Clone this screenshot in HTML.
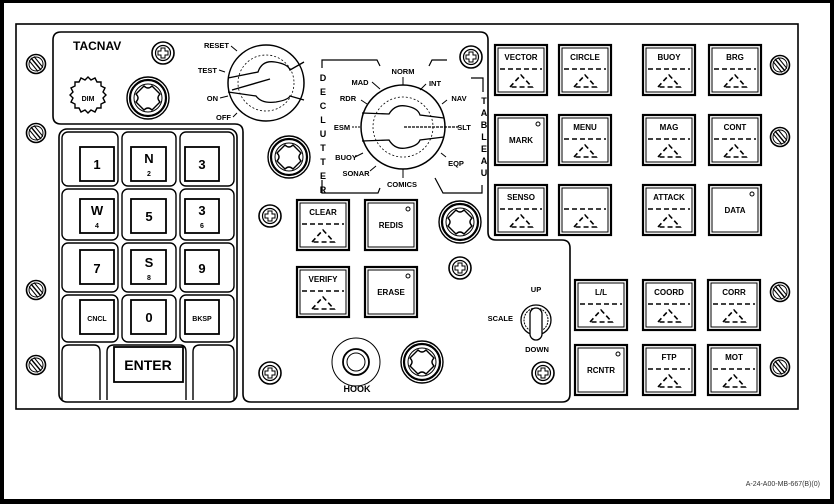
<!DOCTYPE html>
<html><head><meta charset="utf-8"><style>
html,body{margin:0;padding:0;background:#000}
svg{display:block}
text{font-family:"Liberation Sans",sans-serif;font-weight:bold;fill:#000}
</style></head><body>
<svg width="834" height="504" viewBox="0 0 834 504" xmlns="http://www.w3.org/2000/svg">
<defs>
<g id="frame">
<rect x="0" y="0" width="52" height="50" fill="none" stroke="#000" stroke-width="2.2"/>
<rect x="3" y="3" width="46" height="44" fill="none" stroke="#000" stroke-width="1"/>
</g>
<g id="tri">
<line x1="5" y1="24" x2="47" y2="24" stroke="#000" stroke-width="1.4" stroke-dasharray="5,3"/>
<path d="M15,42 L26,30 L37,42 Z" fill="none" stroke="#000" stroke-width="1.6" stroke-dasharray="5,3"/>
</g>
<g id="slot">
<circle r="9.5" fill="#fff" stroke="#000" stroke-width="1.6"/>
<circle r="7" fill="none" stroke="#000" stroke-width="1"/>
<line x1="-5" y1="-6" x2="5" y2="6" stroke="#000" stroke-width="1.4"/>
<line x1="-2" y1="-7.5" x2="7" y2="3.5" stroke="#000" stroke-width="1"/>
<line x1="-7" y1="-3.5" x2="2" y2="7.5" stroke="#000" stroke-width="1"/>
</g>
<g id="phil">
<circle r="11" fill="#fff" stroke="#000" stroke-width="1.6"/>
<circle r="7.5" fill="none" stroke="#000" stroke-width="1.2"/>
<path d="M-2,-5 H2 V-2 H5 V2 H2 V5 H-2 V2 H-5 V-2 H-2 Z" fill="none" stroke="#000" stroke-width="1"/>
</g>
<g id="knob">
<circle r="21" fill="#fff" stroke="#000" stroke-width="1.4"/>
<circle r="18" fill="none" stroke="#000" stroke-width="2.2"/>
<circle r="14" fill="none" stroke="#000" stroke-width="1"/>
<path d="M-4,-12 Q0,-8 4,-12 L12,-4 Q8,0 12,4 L4,12 Q0,8 -4,12 L-12,4 Q-8,0 -12,-4 Z" fill="none" stroke="#000" stroke-width="1.4"/>
</g>
</defs>
<rect x="4" y="3" width="826" height="496" fill="#fff"/>
<!-- outer panel -->
<rect x="16" y="24" width="782" height="385" fill="none" stroke="#000" stroke-width="1.6"/>
<!-- main subpanel outline -->
<path d="M53,40 Q53,32 61,32 L480,32 Q488,32 488,40 L488,232 Q488,240 496,240 L562,240 Q570,240 570,248 L570,394 Q570,402 562,402 L251,402 Q243,402 243,394 L243,132 Q243,124 235,124 L61,124 Q53,124 53,116 Z" fill="none" stroke="#000" stroke-width="1.6"/>
<!-- keypad -->
<rect x="59" y="129" width="178" height="273" rx="8" fill="none" stroke="#000" stroke-width="1.6"/>
<g fill="none" stroke="#000" stroke-width="1.4">
<rect x="62" y="132" width="56" height="54" rx="6"/><rect x="122" y="132" width="54" height="54" rx="6"/><rect x="180" y="132" width="54" height="54" rx="6"/>
<rect x="62" y="189" width="56" height="51" rx="6"/><rect x="122" y="189" width="54" height="51" rx="6"/><rect x="180" y="189" width="54" height="51" rx="6"/>
<rect x="62" y="243" width="56" height="49" rx="6"/><rect x="122" y="243" width="54" height="49" rx="6"/><rect x="180" y="243" width="54" height="49" rx="6"/>
<rect x="62" y="295" width="56" height="47" rx="6"/><rect x="122" y="295" width="54" height="47" rx="6"/><rect x="180" y="295" width="54" height="47" rx="6"/>
<path d="M62,400 V352 Q62,345 69,345 H94 Q100,345 100,352 V400"/>
<path d="M107,400 V352 Q107,345 114,345 H180 Q186,345 186,352 V400"/>
<path d="M193,400 V352 Q193,345 200,345 H227 Q234,345 234,352 V400"/>
</g>
<g fill="none" stroke="#000" stroke-width="1.8">
<rect x="80" y="147" width="34" height="34"/><rect x="131" y="147" width="35" height="34"/><rect x="185" y="147" width="34" height="34"/>
<rect x="80" y="199" width="34" height="34"/><rect x="131" y="199" width="35" height="34"/><rect x="185" y="199" width="34" height="34"/>
<rect x="80" y="250" width="34" height="34"/><rect x="131" y="250" width="35" height="34"/><rect x="185" y="250" width="34" height="34"/>
<rect x="80" y="300" width="34" height="34"/><rect x="131" y="300" width="35" height="34"/><rect x="185" y="300" width="34" height="34"/>
<rect x="114" y="347" width="69" height="35"/>
</g>
<g text-anchor="middle" font-size="13">
<text x="97" y="169">1</text><text x="149" y="163">N</text><text x="202" y="169">3</text>
<text x="97" y="215">W</text><text x="149" y="221">5</text><text x="202" y="215">3</text>
<text x="97" y="273">7</text><text x="149" y="267">S</text><text x="202" y="273">9</text>
<text x="149" y="322">0</text>
<text x="148" y="370" font-size="14">ENTER</text>
</g>
<g text-anchor="middle" font-size="7">
<text x="149" y="176">2</text><text x="97" y="228">4</text><text x="202" y="228">6</text><text x="149" y="280">8</text>
<text x="97" y="321">CNCL</text><text x="202" y="321">BKSP</text>
</g>
<!-- TACNAV -->
<text x="73" y="50" font-size="12">TACNAV</text>
<path d="M88,77 l3,3 4,-2 2,4 4,0 0,4 4,2 -2,4 3,3 -3,3 2,4 -4,2 0,4 -4,0 -2,4 -4,-2 -3,3 -3,-3 -4,2 -2,-4 -4,0 0,-4 -4,-2 2,-4 -3,-3 3,-3 -2,-4 4,-2 0,-4 4,0 2,-4 4,2 Z" fill="#fff" stroke="#000" stroke-width="1.4"/>
<text x="88" y="101" font-size="7" text-anchor="middle">DIM</text>
<use href="#knob" x="148" y="98"/>
<use href="#phil" x="163" y="53"/>
<!-- tacnav switch -->
<circle cx="266" cy="83" r="38" fill="#fff" stroke="#000" stroke-width="1.5"/>
<circle cx="266" cy="83" r="28" fill="none" stroke="#000" stroke-width="0.8" stroke-dasharray="2,2"/>
<path d="M228,78 L258,72 Q262,60 275,62 Q288,64 290,70 L304,62 M228,92 L256,96 Q262,104 276,102 Q288,100 290,96 L304,100" fill="none" stroke="#000" stroke-width="1.3"/>
<line x1="232" y1="90" x2="270" y2="79" stroke="#000" stroke-width="1.4"/>
<g font-size="7.5" text-anchor="end">
<text x="229" y="48">RESET</text><text x="217" y="73">TEST</text><text x="218" y="101">ON</text><text x="231" y="120">OFF</text>
</g>
<g stroke="#000" stroke-width="1" fill="none">
<path d="M231,46 l6,5"/><path d="M219,70 l6,2"/><path d="M220,98 l8,-2"/><path d="M233,117 l4,-4"/>
</g>
<!-- declutter -->
<g stroke="#000" stroke-width="1.2" fill="none">
<path d="M322,68 V60 H377 L380,66"/>
<path d="M322,180 V193 H378 L380,188"/>
<path d="M429,66 L432,60 H447"/>
<path d="M471,78 H483 V92"/>
<path d="M435,178 L443,193 H482 V185"/>
</g>
<g font-size="9" text-anchor="middle">
<text x="323" y="81">D</text><text x="323" y="95">E</text><text x="323" y="109">C</text><text x="323" y="123">L</text><text x="323" y="137">U</text><text x="323" y="151">T</text><text x="323" y="165">T</text><text x="323" y="179">E</text><text x="323" y="193">R</text>
<text x="484" y="104">T</text><text x="484" y="116">A</text><text x="484" y="128">B</text><text x="484" y="140">L</text><text x="484" y="152">E</text><text x="484" y="164">A</text><text x="484" y="176">U</text>
</g>
<circle cx="403" cy="127" r="42" fill="#fff" stroke="#000" stroke-width="1.5"/>
<circle cx="403" cy="127" r="30" fill="none" stroke="#000" stroke-width="0.8" stroke-dasharray="2,2"/>
<path d="M362,113 L389,114 Q395,104 406,106 Q418,108 420,115 L444,118 M362,141 L389,140 Q395,150 406,148 Q418,146 420,140 L444,137" fill="none" stroke="#000" stroke-width="1.3"/>
<line x1="404" y1="127" x2="458" y2="127" stroke="#000" stroke-width="1.2" stroke-dasharray="3,1"/>
<line x1="352" y1="127" x2="361" y2="127" stroke="#000" stroke-width="1" stroke-dasharray="2,1"/>
<g stroke="#000" stroke-width="1" fill="none">
<path d="M403,77 V85"/><path d="M372,82 l8,7"/><path d="M426,84 l-6,6"/><path d="M361,100 l6,4"/><path d="M447,100 l-5,4"/><path d="M355,157 l8,-4"/><path d="M446,157 l-5,-4"/><path d="M370,171 l6,-5"/><path d="M403,169 V178"/>
</g>
<g font-size="7.5" text-anchor="middle">
<text x="403" y="74">NORM</text><text x="360" y="85">MAD</text><text x="435" y="86">INT</text><text x="348" y="101">RDR</text><text x="459" y="101">NAV</text><text x="342" y="130">ESM</text><text x="464" y="130">SLT</text><text x="346" y="160">BUOY</text><text x="456" y="166">EQP</text><text x="356" y="176">SONAR</text><text x="402" y="187">COMICS</text>
</g>
<use href="#phil" x="471" y="57"/>
<use href="#knob" x="289" y="157"/>
<use href="#phil" x="270" y="216"/>
<use href="#knob" x="460" y="222"/>
<use href="#phil" x="460" y="268"/>
<use href="#phil" x="270" y="373"/>
<use href="#knob" x="422" y="362"/>
<use href="#phil" x="543" y="373"/>
<!-- hook -->
<circle cx="356" cy="362" r="24" fill="#fff" stroke="#000" stroke-width="1"/>
<circle cx="356" cy="362" r="13" fill="none" stroke="#000" stroke-width="1.8"/>
<circle cx="356" cy="362" r="9" fill="none" stroke="#000" stroke-width="1"/>
<text x="357" y="392" font-size="9" text-anchor="middle">HOOK</text>
<!-- scale toggle -->
<circle cx="536" cy="320" r="15" fill="#fff" stroke="#000" stroke-width="1.3"/>
<circle cx="536" cy="320" r="12" fill="none" stroke="#000" stroke-width="1" stroke-dasharray="2,1"/>
<rect x="530" y="308" width="12" height="32" rx="6" fill="#fff" stroke="#000" stroke-width="1.3"/>
<text x="536" y="292" font-size="7.5" text-anchor="middle">UP</text>
<text x="513" y="321" font-size="7.5" text-anchor="end">SCALE</text>
<text x="537" y="352" font-size="7.5" text-anchor="middle">DOWN</text>
<!-- screws -->
<use href="#slot" x="36" y="64"/><use href="#slot" x="36" y="133"/><use href="#slot" x="36" y="290"/><use href="#slot" x="36" y="365"/>
<use href="#slot" x="780" y="65"/><use href="#slot" x="780" y="137"/><use href="#slot" x="780" y="292"/><use href="#slot" x="780" y="367"/>
<!-- buttons -->
<g font-size="8" text-anchor="middle">
<g transform="translate(495,45)"><use href="#frame"/><use href="#tri"/><text x="26" y="15">VECTOR</text></g>
<g transform="translate(559,45)"><use href="#frame"/><use href="#tri"/><text x="26" y="15">CIRCLE</text></g>
<g transform="translate(643,45)"><use href="#frame"/><use href="#tri"/><text x="26" y="15">BUOY</text></g>
<g transform="translate(709,45)"><use href="#frame"/><use href="#tri"/><text x="26" y="15">BRG</text></g>
<g transform="translate(495,115)"><use href="#frame"/><circle cx="43" cy="9" r="2" fill="none" stroke="#000"/><text x="26" y="28">MARK</text></g>
<g transform="translate(559,115)"><use href="#frame"/><use href="#tri"/><text x="26" y="15">MENU</text></g>
<g transform="translate(643,115)"><use href="#frame"/><use href="#tri"/><text x="26" y="15">MAG</text></g>
<g transform="translate(709,115)"><use href="#frame"/><use href="#tri"/><text x="26" y="15">CONT</text></g>
<g transform="translate(495,185)"><use href="#frame"/><use href="#tri"/><text x="26" y="15">SENSO</text></g>
<g transform="translate(559,185)"><use href="#frame"/><use href="#tri"/></g>
<g transform="translate(643,185)"><use href="#frame"/><use href="#tri"/><text x="26" y="15">ATTACK</text></g>
<g transform="translate(709,185)"><use href="#frame"/><circle cx="43" cy="9" r="2" fill="none" stroke="#000"/><text x="26" y="28">DATA</text></g>
<g transform="translate(297,200)"><use href="#frame"/><use href="#tri"/><text x="26" y="15">CLEAR</text></g>
<g transform="translate(365,200)"><use href="#frame"/><circle cx="43" cy="9" r="2" fill="none" stroke="#000"/><text x="26" y="28">REDIS</text></g>
<g transform="translate(297,267)"><use href="#frame"/><use href="#tri"/><text x="26" y="15">VERIFY</text></g>
<g transform="translate(365,267)"><use href="#frame"/><circle cx="43" cy="9" r="2" fill="none" stroke="#000"/><text x="26" y="28">ERASE</text></g>
<g transform="translate(575,280)"><use href="#frame"/><use href="#tri"/><text x="26" y="15">L/L</text></g>
<g transform="translate(643,280)"><use href="#frame"/><use href="#tri"/><text x="26" y="15">COORD</text></g>
<g transform="translate(708,280)"><use href="#frame"/><use href="#tri"/><text x="26" y="15">CORR</text></g>
<g transform="translate(575,345)"><use href="#frame"/><circle cx="43" cy="9" r="2" fill="none" stroke="#000"/><text x="26" y="28">RCNTR</text></g>
<g transform="translate(643,345)"><use href="#frame"/><use href="#tri"/><text x="26" y="15">FTP</text></g>
<g transform="translate(708,345)"><use href="#frame"/><use href="#tri"/><text x="26" y="15">MOT</text></g>
</g>
<text x="820" y="486" font-size="7" font-weight="normal" text-anchor="end" style="font-weight:normal;fill:#333">A-24-A00-MB-667(B)(0)</text>
</svg>
</body></html>
